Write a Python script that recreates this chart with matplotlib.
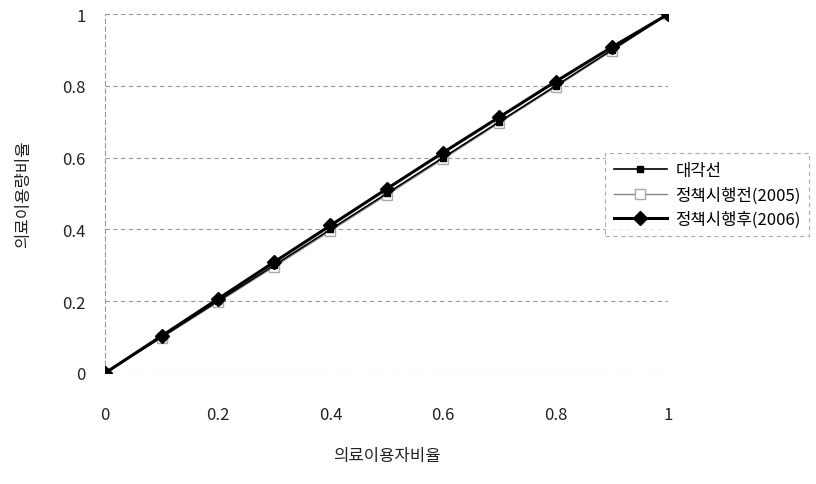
import matplotlib
matplotlib.use('Agg')
import matplotlib.pyplot as plt

plt.rcParams['font.family'] = ['Noto Sans CJK KR', 'DejaVu Sans']

# 누적 비율 (의료이용자비율 vs 의료이용량비율)
x = [0, 0.1, 0.2, 0.3, 0.4, 0.5, 0.6, 0.7, 0.8, 0.9, 1.0]
diag = [0, 0.1, 0.2, 0.3, 0.4, 0.5, 0.6, 0.7, 0.8, 0.9, 1.0]
before_2005 = [0, 0.098, 0.197, 0.296, 0.396, 0.496, 0.596, 0.697, 0.797, 0.898, 1.0]
after_2006 = [0, 0.103, 0.206, 0.309, 0.411, 0.513, 0.614, 0.713, 0.812, 0.908, 1.0]

fig = plt.figure(figsize=(8.16, 4.85), dpi=100)
ax = fig.add_axes([0.129, 0.229, 0.69, 0.74])

ax.plot(x, diag, color='black', lw=1.2, marker='s', ms=4, label='대각선', zorder=3)
ax.plot(x, before_2005, color='#888888', lw=1.0, marker='s', ms=7,
        mfc='white', mec='#aaaaaa', label='정책시행전(2005)', zorder=2)
ax.plot(x, after_2006, color='black', lw=2.2, marker='D', ms=7.5,
        label='정책시행후(2006)', zorder=4)

ax.set_xlim(0, 1)
ax.set_ylim(0, 1)
ax.set_xticks([0, 0.2, 0.4, 0.6, 0.8, 1])
ax.set_xticklabels(['0', '0.2', '0.4', '0.6', '0.8', '1'])
ax.set_yticks([0, 0.2, 0.4, 0.6, 0.8, 1])
ax.set_yticklabels(['0', '0.2', '0.4', '0.6', '0.8', '1'])
ax.tick_params(length=0, labelsize=12, colors='#222222')
ax.tick_params(axis='x', pad=24)
ax.tick_params(axis='y', pad=14)

ax.yaxis.grid(True, color='#999999', ls=(0, (4, 3)), lw=0.8)
for side in ['top', 'right', 'bottom']:
    ax.spines[side].set_visible(False)
ax.spines['left'].set_color('#999999')
ax.spines['left'].set_linestyle((0, (4, 3)))
ax.spines['left'].set_linewidth(0.8)

ax.set_xlabel('의료이용자비율', fontsize=12, labelpad=17, color='#222222')
ax.set_ylabel('의료이용량비율', fontsize=12, labelpad=22, color='#222222')

leg = ax.legend(loc='center left', bbox_to_anchor=(0.888, 0.496), fontsize=12,
                frameon=True, fancybox=False, handlelength=3.2, borderaxespad=0,
                labelspacing=0.45, borderpad=0.5, handletextpad=0.5)
leg.get_frame().set_edgecolor('#999999')
leg.get_frame().set_linestyle((0, (4, 3)))
leg.get_frame().set_linewidth(0.8)
leg.set_zorder(10)

fig.savefig('out.png', dpi=100)
